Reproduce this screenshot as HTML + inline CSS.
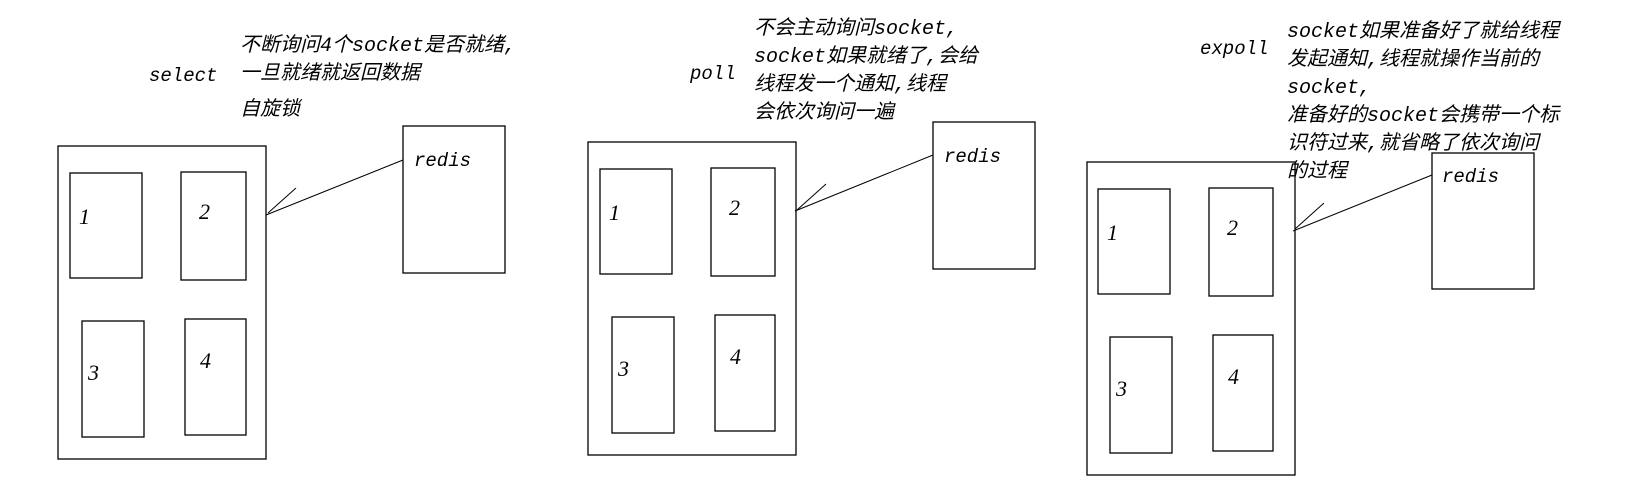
<!DOCTYPE html>
<html><head><meta charset="utf-8"><style>
html,body{margin:0;padding:0;background:#fff;}
svg{display:block}
text{font-family:"Liberation Mono","Noto Sans CJK SC",monospace;font-style:italic;font-size:19px;fill:#000}
.n{font-family:"Liberation Serif",serif;font-size:22px}
.c{font-size:20px}
</style></head><body>
<svg width="1632" height="490" viewBox="0 0 1632 490" xmlns="http://www.w3.org/2000/svg">
<g fill="none" stroke="#000" stroke-width="1.3">
<rect x="58" y="146" width="208" height="313"/>
<rect x="70" y="173" width="72" height="105"/>
<rect x="181" y="172" width="65" height="108"/>
<rect x="82" y="321" width="62" height="116"/>
<rect x="185" y="319" width="61" height="116"/>
<rect x="403" y="126" width="102" height="147"/>
<line x1="403" y1="160" x2="266" y2="215" stroke-width="1"/>
<line x1="296" y1="188" x2="268" y2="213" stroke-width="1"/>
<rect x="588" y="142" width="208" height="313"/>
<rect x="600" y="169" width="72" height="105"/>
<rect x="711" y="168" width="64" height="108"/>
<rect x="612" y="317" width="62" height="116"/>
<rect x="715" y="315" width="60" height="116"/>
<rect x="933" y="122" width="102" height="147"/>
<line x1="933" y1="155" x2="795" y2="211" stroke-width="1"/>
<line x1="826" y1="184" x2="797" y2="210" stroke-width="1"/>
<rect x="1087" y="162" width="208" height="313"/>
<rect x="1098" y="189" width="72" height="105"/>
<rect x="1209" y="188" width="64" height="108"/>
<rect x="1110" y="337" width="62" height="116"/>
<rect x="1213" y="335" width="60" height="116"/>
<rect x="1432" y="153" width="102" height="136"/>
<line x1="1432" y1="175" x2="1293" y2="231" stroke-width="1"/>
<line x1="1324" y1="203" x2="1295" y2="229" stroke-width="1"/>
</g>
<text x="149" y="81">select</text>
<text class="c" x="240" y="51">不断询问4个socket是否就绪,</text>
<text class="c" x="240" y="79">一旦就绪就返回数据</text>
<text class="c" x="240" y="115">自旋锁</text>
<text x="414" y="166">redis</text>
<text class="n" x="79" y="224">1</text>
<text class="n" x="199" y="219">2</text>
<text class="n" x="88" y="380">3</text>
<text class="n" x="200" y="368">4</text>
<text x="690" y="79">poll</text>
<text class="c" x="754" y="34">不会主动询问socket,</text>
<text class="c" x="754" y="62">socket如果就绪了,会给</text>
<text class="c" x="754" y="90">线程发一个通知,线程</text>
<text class="c" x="754" y="118">会依次询问一遍</text>
<text x="944" y="162">redis</text>
<text class="n" x="609" y="220">1</text>
<text class="n" x="729" y="215">2</text>
<text class="n" x="618" y="376">3</text>
<text class="n" x="730" y="364">4</text>
<text x="1200" y="54">expoll</text>
<text class="c" x="1287" y="37">socket如果准备好了就给线程</text>
<text class="c" x="1287" y="65">发起通知,线程就操作当前的</text>
<text class="c" x="1287" y="93">socket,</text>
<text class="c" x="1287" y="121">准备好的socket会携带一个标</text>
<text class="c" x="1287" y="149">识符过来,就省略了依次询问</text>
<text class="c" x="1287" y="177">的过程</text>
<text x="1442" y="182">redis</text>
<text class="n" x="1107" y="240">1</text>
<text class="n" x="1227" y="235">2</text>
<text class="n" x="1116" y="396">3</text>
<text class="n" x="1228" y="384">4</text>
</svg>
</body></html>
